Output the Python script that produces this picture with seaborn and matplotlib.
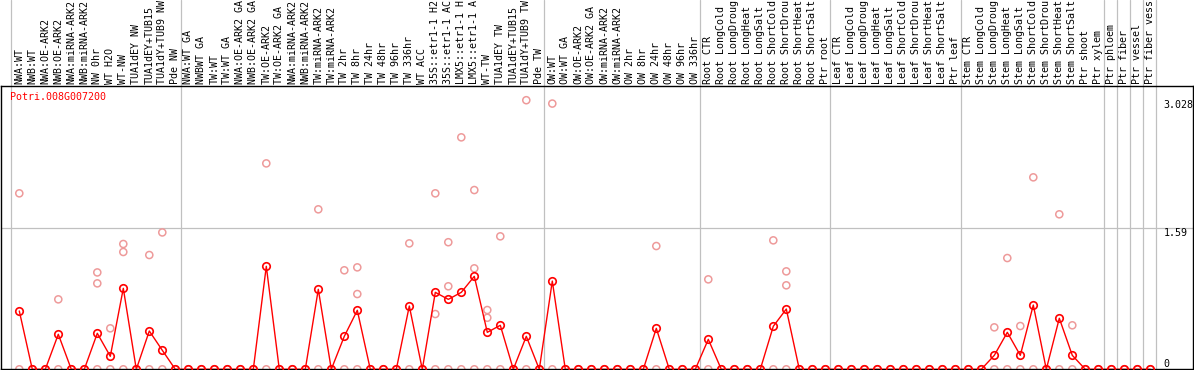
import numpy as np
import pandas as pd
import matplotlib
matplotlib.use("Agg")
import matplotlib.pyplot as plt
import matplotlib.transforms as mtransforms
import seaborn as sns

sns.set_style("white")
plt.rcParams['font.family'] = ['DejaVu Sans Mono']

gene = "Potri.008G007200"

# sample labels, one list per group
g_nw = ["NWA:WT", "NWB:WT", "NWA:OE-ARK2", "NWB:OE-ARK2", "NWA:miRNA-ARK2",
        "NWB:miRNA-ARK2", "NW 0hr", "WT H2O", "WT-NW", "TUA1dEY NW",
        "TUA1dEY+TUB15", "TUA1dY+TUB9 NW", "Pde NW"]
g_tw = ["NWA:WT GA", "NWBWT GA", "TW:WT", "TW:WT GA", "NWA:OE-ARK2 GA",
        "NWB:OE-ARK2 GA", "TW:OE-ARK2", "TW:OE-ARK2 GA", "NWA:miRNA-ARK2",
        "NWB:miRNA-ARK2", "TW:miRNA-ARK2", "TW:miRNA-ARK2", "TW 2hr", "TW 8hr",
        "TW 24hr", "TW 48hr", "TW 96hr", "TW 336hr", "WT ACC", "35S::etr1-1 H2",
        "35S::etr1-1 AC", "LMX5::etr1-1 H", "LMX5::etr1-1 A", "WT-TW",
        "TUA1dEY TW", "TUA1dEY+TUB15", "TUA1dY+TUB9 TW", "Pde TW"]
g_ow = ["OW:WT", "OW:WT GA", "OW:OE-ARK2", "OW:OE-ARK2 GA", "OW:miRNA-ARK2",
        "OW:miRNA-ARK2", "OW 2hr", "OW 8hr", "OW 24hr", "OW 48hr", "OW 96hr",
        "OW 336hr"]
g_root = ["Root CTR", "Root LongCold", "Root LongDroug", "Root LongHeat",
          "Root LongSalt", "Root ShortCold", "Root ShortDrou", "Root ShortHeat",
          "Root ShortSalt", "Ptr root"]
g_leaf = ["Leaf CTR", "Leaf LongCold", "Leaf LongDroug", "Leaf LongHeat",
          "Leaf LongSalt", "Leaf ShortCold", "Leaf ShortDrou", "Leaf ShortHeat",
          "Leaf ShortSalt", "Ptr leaf"]
g_stem = ["Stem CTR", "Stem LongCold", "Stem LongDroug", "Stem LongHeat",
          "Stem LongSalt", "Stem ShortCold", "Stem ShortDrou", "Stem ShortHeat",
          "Stem ShortSalt", "Ptr shoot"]
g_ptr = ["Ptr xylem", "Ptr phloem", "Ptr fiber", "Ptr vessel", "Ptr fiber vess"]

# mean expression per sample
m_nw = [0.656, 0, 0, 0.394, 0, 0, 0.405, 0.146, 0.911, 0, 0.431, 0.214, 0]
m_tw = [0, 0, 0, 0, 0, 0, 1.159, 0, 0, 0, 0.9, 0, 0.371, 0.664, 0, 0, 0, 0.712,
        0, 0.866, 0.787, 0.866, 1.046, 0.416, 0.495, 0, 0.371, 0]
m_ow = [0.993, 0, 0, 0, 0, 0, 0, 0, 0.461, 0, 0, 0]
m_root = [0.337, 0, 0, 0, 0, 0.484, 0.678, 0, 0, 0]
m_leaf = [0, 0, 0, 0, 0, 0, 0, 0, 0, 0]
m_stem = [0, 0, 0.157, 0.416, 0.157, 0.723, 0, 0.574, 0.157, 0]
m_ptr = [0, 0, 0, 0, 0]

# non-zero replicate values (sample index -> values)
replicates = {
    0: [1.98], 3: [0.787], 6: [1.09, 0.967], 7: [0.461], 8: [1.41, 1.32],
    10: [1.286], 11: [1.54], 19: [2.317], 23: [1.8], 25: [1.114],
    26: [1.147, 0.847], 30: [1.417], 32: [1.98, 0.622], 33: [1.43, 0.934],
    34: [2.61], 35: [2.017, 1.136], 36: [0.667, 0.58], 37: [1.496],
    39: [3.028], 41: [2.99], 49: [1.387], 53: [1.012], 58: [1.451],
    59: [1.102, 0.945], 75: [0.472], 76: [1.252], 77: [0.487], 78: [2.16],
    80: [1.744], 81: [0.495],
}

yticks = [0, 1.59, 3.028]
ytick_labels = ["0", "1.59", "3.028"]

groups = [g_nw, g_tw, g_ow, g_root, g_leaf, g_stem, g_ptr]
labels = sum(groups, [])
means = m_nw + m_tw + m_ow + m_root + m_leaf + m_stem + m_ptr
n = len(labels)

df = pd.DataFrame({"idx": np.arange(n), "sample": labels, "mean": means})
rep_rows = [(i, 0.0) for i in range(n)]
for i, vals in replicates.items():
    rep_rows += [(i, v) for v in vals]
reps = pd.DataFrame(rep_rows, columns=["idx", "value"])

W, H = 1194, 370
fig = plt.figure(figsize=(W / 100, H / 100), dpi=100)
ax_left, ax_right, ax_top, ax_bot = 1, 1193, 86, 369.3
ax = fig.add_axes([ax_left / W, (H - ax_bot) / H, (ax_right - ax_left) / W,
                   (ax_bot - ax_top) / H])

# pixel mapping: sample i at x = 19.3 + 13*i, value 0 at 369.3, 88.87 px per unit
step, x0 = 13.0, 19.3
ppu = 88.87
ax.set_xlim((ax_left - x0) / step, (ax_right - x0) / step)
ax.set_ylim(0, (ax_bot - ax_top) / ppu)

grey = "#c0c0c0"
pink = "#ee9a9a"
red = "#ff0000"

# group separators, extended up through the label header
head = 1 + (ax_top - 0) / (ax_bot - ax_top)
for xs in [-0.66, 12.4, 40.4, 52.4, 62.4, 72.4, 83.4, 84.4, 85.4, 86.4, 87.4]:
    ax.axvline(xs, ymin=0, ymax=head, color=grey, lw=0.9, clip_on=False, zorder=1)
ax.axhline(1.59, color=grey, lw=0.9, zorder=1)

sns.scatterplot(data=reps, x="idx", y="value", ax=ax, marker="o", s=26,
                color=pink, linewidth=1.1, legend=False, zorder=2)
for coll in ax.collections:
    coll.set_facecolor("none")
    coll.set_edgecolor(pink)

sns.lineplot(data=df, x="idx", y="mean", ax=ax, color=red, lw=1.0,
             marker="o", markersize=5.4, markerfacecolor="none",
             markeredgecolor=red, markeredgewidth=1.2, zorder=3)

for s in ["left", "right", "top", "bottom"]:
    ax.spines[s].set_visible(True)
    ax.spines[s].set_color("black")
    ax.spines[s].set_linewidth(1.0)
ax.set_xticks([])
ax.set_yticks([])
ax.set_xlabel("")
ax.set_ylabel("")

# rotated sample labels above the plot
trans = mtransforms.blended_transform_factory(ax.transData, ax.transAxes)
for i, lab in enumerate(labels):
    ax.text(i, 1 + 1.5 / (ax_bot - ax_top), lab, transform=trans, rotation=90,
            ha="center", va="bottom", fontsize=7.2, color="black", clip_on=False)

ax.text((10 - ax_left) / (ax_right - ax_left), 1 - (97 - ax_top) / (ax_bot - ax_top),
        gene, transform=ax.transAxes, ha="left", va="center", fontsize=7.2,
        color=red)

for v, lab in zip(yticks, ytick_labels):
    ax.text(88.0, v, lab, ha="left", va="bottom" if v == 0 else "top",
            fontsize=7.2, color="black")

fig.savefig("out.png", dpi=100)
